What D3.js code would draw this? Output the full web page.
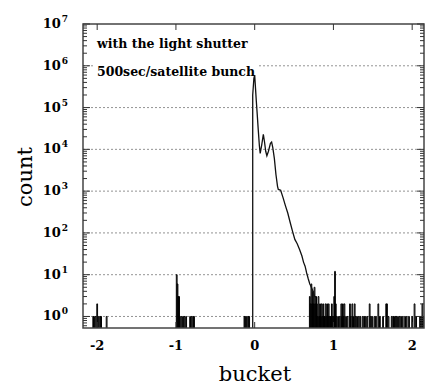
<!DOCTYPE html>
<html>
<head>
<meta charset="utf-8">
<script src="https://cdn.jsdelivr.net/npm/d3@7"></script>
<style>
  body { margin: 0; background: #fff; }
  svg text { font-family: "DejaVu Serif", serif; }
</style>
</head>
<body>
<div id="chart"></div>
<script>
// main bunch curve (bucket, count)
const mainBucket = [-0.025, -0.01, 0.0, 0.01, 0.02, 0.03, 0.045, 0.06, 0.07, 0.09, 0.11, 0.125, 0.14, 0.155, 0.175, 0.2, 0.215, 0.23, 0.25, 0.27, 0.29, 0.3, 0.33, 0.36, 0.39, 0.42, 0.45, 0.48, 0.51, 0.54, 0.57, 0.6, 0.62, 0.64, 0.66, 0.68, 0.7, 0.72, 0.74, 0.76, 0.78];
const mainCount = [2e5, 5e5, 6e5, 3e5, 1.5e5, 8e4, 3e4, 1.2e4, 8e3, 1.3e4, 2.3e4, 1.5e4, 9e3, 7e3, 9e3, 1.4e4, 1.5e4, 1.1e4, 6e3, 2.5e3, 1.3e3, 1.1e3, 1.05e3, 700, 450, 300, 180, 110, 70, 55, 40, 28, 20, 16, 11, 8, 6, 5, 4, 3, 3];

// sparse single bins (width 0.01) away from the bunch
const noiseBucket = [-2.05, -2.04, -2.02, -2.0, -1.98, -1.96, -1.95, -1.88,
  -0.99, -0.98, -0.97, -0.96, -0.95, -0.93, -0.91, -0.89, -0.87, -0.82, -0.8, -0.78, -0.77,
  -0.13, -0.12, -0.1, -0.08, -0.07,
  0.7, 0.71, 0.72, 0.73, 0.74, 0.75, 0.76, 0.77, 0.78,
  0.79, 0.8, 0.81, 0.82, 0.83, 0.84, 0.85, 0.86, 0.87, 0.88, 0.89, 0.9, 0.91, 0.92, 0.93, 0.94, 0.95, 0.96, 0.97, 0.98, 0.99, 1.0, 1.01, 1.02, 1.03, 1.04,
  1.06, 1.08, 1.1, 1.11, 1.12, 1.13, 1.14, 1.16, 1.18, 1.21, 1.22, 1.24, 1.25, 1.27, 1.28, 1.3, 1.32, 1.34, 1.37, 1.39, 1.41, 1.43, 1.46, 1.47, 1.49, 1.52, 1.54, 1.57, 1.59, 1.63, 1.67, 1.68, 1.7,
  1.74, 1.76, 1.77, 1.79, 1.8, 1.82, 1.84, 1.86, 1.88, 1.91, 1.93, 1.96, 2.0, 2.03, 2.05, 2.1, 2.12, 2.13, 2.14];
const noiseCount = [1, 1, 1, 2, 1, 1, 1, 1,
  10, 6, 3, 3, 1, 1, 1, 1, 1, 1, 1, 1, 1,
  1, 1, 1, 1, 1,
  3, 2, 6, 2, 4, 2, 5, 2, 3,
  2, 1, 3, 1, 2, 1, 2, 1, 2, 1, 1, 2, 1, 2, 1, 2, 1, 1, 1, 2, 1, 1, 3, 12, 2, 1,
  1, 1, 2, 1, 2, 1, 2, 1, 1, 2, 1, 2, 1, 2, 1, 1, 1, 1, 1, 1, 1, 1, 2, 1, 1, 1, 1, 2, 1, 1, 2, 2, 1,
  1, 1, 1, 1, 1, 1, 1, 1, 1, 1, 1, 1, 1, 2, 1, 1, 1, 2, 1];

const xTicks = [-2, -1, 0, 1, 2];
const yDecades = [0, 1, 2, 3, 4, 5, 6, 7];
const gridDecades = [0, 1, 2, 3, 4, 5, 6];
const noteLines = ['with the light shutter', '500sec/satellite bunch'];

const W = 426, H = 385;
const plotL = 83, plotR = 424, plotT = 24, plotB = 328;

const svg = d3.select('#chart').append('svg')
  .attr('width', W).attr('height', H);

const x = d3.scaleLinear().domain([-2.18, 2.15]).range([plotL, plotR]);
const y = d3.scaleLog().domain([0.53, 1e7]).range([plotB, plotT]);

// dotted grid
svg.append('g').selectAll('line').data(gridDecades).join('line')
  .attr('x1', plotL).attr('x2', plotR)
  .attr('y1', d => y(Math.pow(10, d))).attr('y2', d => y(Math.pow(10, d)))
  .style('stroke', '#777').style('stroke-width', 0.8)
  .style('stroke-dasharray', '2,2');

// note box
const note = svg.append('g');
note.append('rect')
  .attr('x', 94).attr('y', 34).attr('width', 164).attr('height', 36)
  .style('fill', '#fff');
note.selectAll('text').data(noteLines).join('text')
  .attr('x', 97).attr('y', (d, i) => 48 + i * 28)
  .style('font-size', '12.5px').style('font-weight', 'bold')
  .text(d => d);

// noise bins
const bw = 0.01;
svg.append('g').selectAll('path').data(noiseBucket).join('path')
  .attr('d', (d, i) => 'M' + x(d - bw / 2) + ',' + plotB +
    'V' + y(noiseCount[i]) + 'H' + x(d + bw / 2) + 'V' + plotB)
  .style('fill', 'none').style('stroke', '#000').style('stroke-width', 1);

// main bunch
const pts = mainBucket.map((b, i) => [x(b), y(mainCount[i])]);
pts.unshift([x(mainBucket[0]), plotB]);
svg.append('path')
  .attr('d', d3.line()(pts))
  .style('fill', 'none').style('stroke', '#111').style('stroke-width', 1.3);

// frame
svg.append('rect')
  .attr('x', plotL).attr('y', plotT).attr('width', plotR - plotL).attr('height', plotB - plotT)
  .style('fill', 'none').style('stroke', '#444').style('stroke-width', 1.5);

// y ticks (major + minor), left and right, inward
const minor = [];
for (let k = -1; k < 7; k++) {
  for (let m = 2; m < 10; m++) {
    const v = m * Math.pow(10, k);
    if (v > y.domain()[0]) minor.push(v);
  }
}
const tickG = svg.append('g').style('stroke', '#333').style('stroke-width', 1);
[plotL, plotR].forEach((xx, side) => {
  const dir = side === 0 ? 1 : -1;
  tickG.append('g').selectAll('line').data(yDecades).join('line')
    .attr('x1', xx).attr('x2', xx + dir * 7)
    .attr('y1', d => y(Math.pow(10, d))).attr('y2', d => y(Math.pow(10, d)));
  tickG.append('g').selectAll('line').data(minor).join('line')
    .attr('x1', xx).attr('x2', xx + dir * 4)
    .attr('y1', d => y(d)).attr('y2', d => y(d));
});
[plotT, plotB].forEach((yy, side) => {
  const dir = side === 0 ? 1 : -1;
  tickG.append('g').selectAll('line').data(xTicks).join('line')
    .attr('x1', d => x(d)).attr('x2', d => x(d))
    .attr('y1', yy).attr('y2', yy + dir * 6);
});

// y tick labels 10^n
const yl = svg.append('g').selectAll('text').data(yDecades).join('text')
  .attr('x', 68).attr('y', d => y(Math.pow(10, d)) + 4)
  .attr('text-anchor', 'end')
  .style('font-size', '13px').style('font-weight', 'bold');
yl.append('tspan').text('10');
yl.append('tspan').attr('dx', 1).attr('dy', -6)
  .style('font-size', '9px').text(d => d);

// x tick labels
svg.append('g').selectAll('text').data(xTicks).join('text')
  .attr('x', d => x(d)).attr('y', 350)
  .attr('text-anchor', 'middle')
  .style('font-size', '13px').style('font-weight', 'bold')
  .text(d => d);

// axis titles
svg.append('text')
  .attr('x', 255).attr('y', 381)
  .attr('text-anchor', 'middle')
  .style('font-size', '21px')
  .text('bucket');

svg.append('text')
  .attr('transform', 'translate(32,177) rotate(-90)')
  .attr('text-anchor', 'middle')
  .style('font-size', '21px')
  .text('count');
</script>
</body>
</html>
